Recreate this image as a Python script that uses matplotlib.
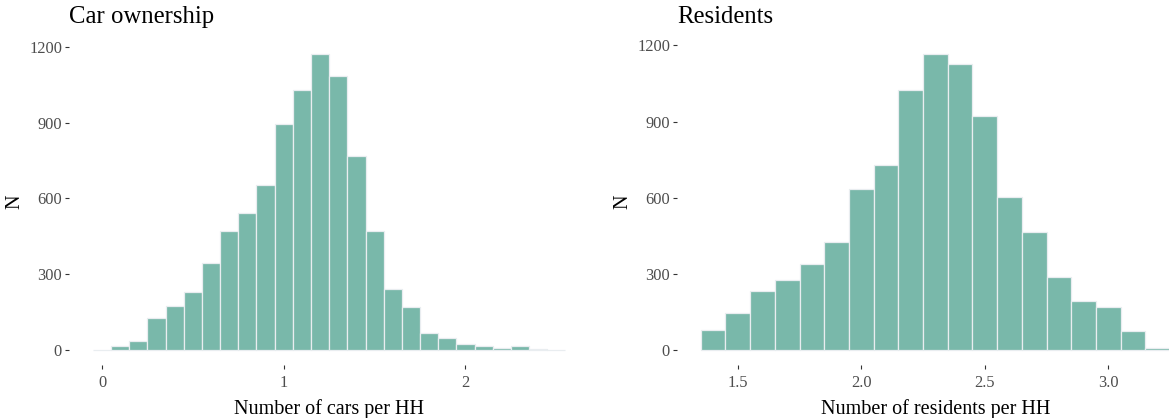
import numpy as np
import matplotlib.pyplot as plt

plt.rcParams["font.family"] = ["Liberation Serif", "DejaVu Serif"]

# histogram counts, bin width 0.1 (bins centred on the listed values)
cars_bins = [0.0, 0.1, 0.2, 0.3, 0.4, 0.5, 0.6, 0.7, 0.8, 0.9, 1.0, 1.1, 1.2,
             1.3, 1.4, 1.5, 1.6, 1.7, 1.8, 1.9, 2.0, 2.1, 2.2, 2.3, 2.4, 2.5]
cars_n = [1, 15, 35, 125, 174, 229, 345, 472, 543, 654, 896, 1029, 1173,
          1085, 769, 472, 240, 169, 69, 48, 25, 14, 7, 16, 4, 1]

res_bins = [1.4, 1.5, 1.6, 1.7, 1.8, 1.9, 2.0, 2.1, 2.2, 2.3, 2.4, 2.5,
            2.6, 2.7, 2.8, 2.9, 3.0, 3.1, 3.2]
res_n = [79, 146, 234, 277, 338, 426, 635, 727, 1024, 1167, 1127, 920,
         602, 464, 288, 194, 168, 74, 8]

cars_ticks = [0, 1, 2]
cars_ticklabels = ["0", "1", "2"]
res_ticks = [1.5, 2.0, 2.5, 3.0]
res_ticklabels = ["1.5", "2.0", "2.5", "3.0"]
n_ticks = [0, 300, 600, 900, 1200]

binwidth = 0.1
fill = "#79b8aa"
edge = "#e9edf0"
grey = "#4d4d4d"

fig = plt.figure(figsize=(11.69, 4.18), dpi=100)
ax1 = fig.add_axes([0.0593, 0.1273, 0.4446, 0.7794])
ax2 = fig.add_axes([0.5794, 0.1273, 0.4416, 0.7794])


def hist_panel(ax, bins, counts, ticks, ticklabels, title, xlabel):
    ax.bar(bins, counts, width=binwidth, color=fill, edgecolor=edge,
           linewidth=0.9)
    lo = bins[0] - binwidth / 2
    hi = bins[-1] + binwidth / 2
    ax.set_xlim(lo - 0.05 * (hi - lo), hi + 0.05 * (hi - lo))
    top = max(counts)
    ax.set_ylim(-0.05 * top, 1.05 * top)
    ax.set_xticks(ticks)
    ax.set_xticklabels(ticklabels)
    ax.set_yticks(n_ticks)
    for s in ax.spines.values():
        s.set_visible(False)
    ax.tick_params(axis="both", length=3, width=0.8, color="#333333",
                   labelcolor=grey, labelsize=11.8)
    ax.tick_params(axis="x", pad=4.5)
    ax.tick_params(axis="y", pad=2.2)
    ax.set_title(title, loc="left", fontsize=17.8, pad=11.5)
    ax.set_xlabel(xlabel, fontsize=14.5, labelpad=5.5)
    ax.set_ylabel("N", fontsize=14.5, labelpad=3.5)


hist_panel(ax1, cars_bins, cars_n, cars_ticks, cars_ticklabels,
           "Car ownership", "Number of cars per HH")
hist_panel(ax2, res_bins, res_n, res_ticks, res_ticklabels,
           "Residents", "Number of residents per HH")

fig.savefig("out.png", dpi=100)
